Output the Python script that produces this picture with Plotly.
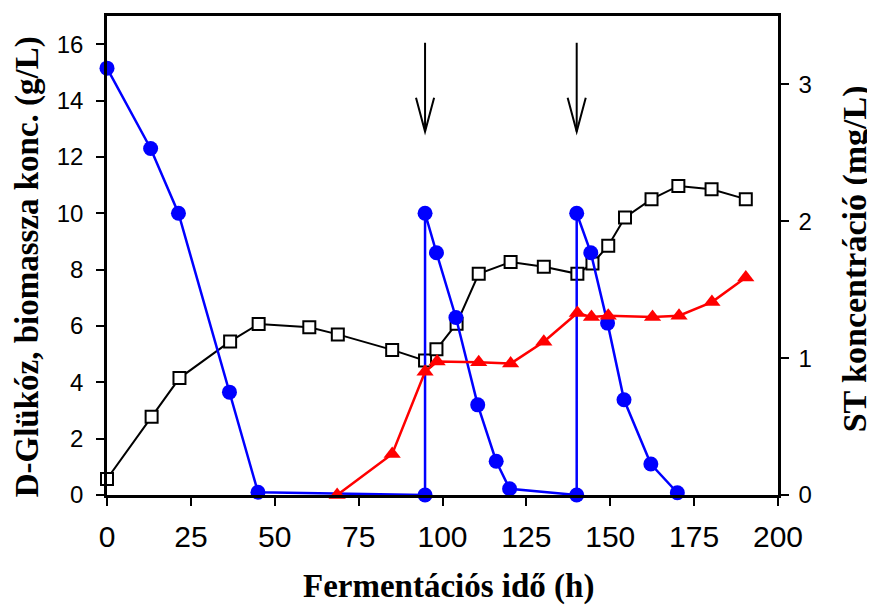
import plotly.graph_objects as go

# ---- data ----
glc_t = [0, 13, 21.3, 36.5, 45, 94.8, 94.8, 98.2, 104, 110.5, 116, 120, 140, 140, 144.2, 149.2, 154.1, 162.1, 170]
glc_v = [15.15, 12.3, 10.0, 3.65, 0.1, 0.0, 10.0, 8.6, 6.3, 3.2, 1.2, 0.22, 0.0, 10.0, 8.6, 6.1, 3.38, 1.1, 0.08]

bio_t = [0, 13.3, 21.6, 36.7, 45.2, 60.3, 68.8, 85, 94.8, 98.2, 104.2, 110.8, 120.3, 130.2, 140.2, 144.7, 149.4, 154.4, 162.3, 170.3, 180.2, 190.4]
bio_v = [0.57, 2.78, 4.15, 5.45, 6.07, 5.95, 5.7, 5.15, 4.77, 5.17, 6.08, 7.85, 8.27, 8.1, 7.85, 8.22, 8.85, 9.85, 10.5, 10.97, 10.85, 10.5]

st_t = [68.6, 85, 94.8, 98.4, 110.8, 120.3, 130.2, 140.2, 144.4, 149.4, 162.6, 170.5, 180.3, 190.4]
st_v = [0.0, 0.3, 0.9, 0.975, 0.97, 0.96, 1.12, 1.33, 1.3, 1.31, 1.3, 1.31, 1.41, 1.59]

feed_t = [94.8, 140]          # feeding times (arrows)
arrow_top, arrow_tip = 16.05, 12.9

x_ticks = [0, 25, 50, 75, 100, 125, 150, 175, 200]
y_ticks = [0, 2, 4, 6, 8, 10, 12, 14, 16]
y2_ticks = [0, 1, 2, 3]

x_title = "Fermentációs idő (h)"
y_title = "D-Glükóz, biomassza konc. (g/L)"
y2_title = "ST koncentráció (mg/L)"

fig = go.Figure()

fig.add_trace(go.Scatter(
    x=bio_t, y=bio_v, mode="lines+markers", cliponaxis=False,
    line=dict(color="black", width=2),
    marker=dict(symbol="square", size=12, color="white", line=dict(color="black", width=2)),
    showlegend=False))

fig.add_trace(go.Scatter(
    x=glc_t, y=glc_v, mode="lines+markers", cliponaxis=False,
    line=dict(color="#0000FF", width=2.5),
    marker=dict(symbol="circle", size=15, color="#0000FF"),
    showlegend=False))

fig.add_trace(go.Scatter(
    x=st_t, y=st_v, mode="lines+markers", cliponaxis=False, yaxis="y2",
    line=dict(color="#FF0000", width=2.5),
    marker=dict(symbol="triangle-up", size=15, color="#FF0000"),
    showlegend=False))

shapes = []
for t in feed_t:
    shapes.append(dict(type="line", xref="x", yref="y", x0=t, x1=t, y0=arrow_top, y1=arrow_tip,
                       line=dict(color="black", width=2)))
    shapes.append(dict(type="path", xref="x", yref="y",
                       path=f"M {t-2.7},14.1 L {t},{arrow_tip} L {t+2.7},14.1",
                       line=dict(color="black", width=2)))

tickfont = dict(family="Liberation Sans, Arial, sans-serif", size=24, color="black")
titlefont = dict(family="Liberation Serif, Times New Roman, serif", size=32, color="black")

# page body has an 8px margin -> figure is shifted by 8px; compensate
fig.update_layout(
    width=867, height=597,
    margin=dict(l=99, r=97, t=5, b=110),
    plot_bgcolor="white", paper_bgcolor="white",
    shapes=shapes,
    xaxis=dict(range=[0, 200], tickvals=x_ticks, ticks="outside", ticklen=8, tickwidth=1.5,
               tickcolor="black", showline=True, linecolor="black", linewidth=2.5, mirror=True,
               showgrid=False, zeroline=False, tickfont=dict(tickfont, size=30),
               ticklabelstandoff=5),
    yaxis=dict(range=[0, 17], tickvals=y_ticks, ticks="outside", ticklen=8, tickwidth=1.5,
               tickcolor="black", showline=True, linecolor="black", linewidth=2.5,
               showgrid=False, zeroline=False, tickfont=tickfont, ticklabelstandoff=8),
    yaxis2=dict(range=[0, 3.5], tickvals=y2_ticks, overlaying="y", side="right", ticks="outside",
                ticklen=8, tickwidth=1.5, tickcolor="black", showline=True, linecolor="black",
                linewidth=2.5, showgrid=False, zeroline=False, tickfont=tickfont,
                ticklabelstandoff=5),
    annotations=[
        dict(text=f"<b>{x_title}</b>", xref="paper", yref="paper", x=0.509, y=-0.19,
             showarrow=False, font=dict(titlefont, size=33), xanchor="center", yanchor="middle"),
        dict(text=f"<b>{y_title}</b>", xref="paper", yref="paper", x=-0.118, y=0.477,
             showarrow=False, font=dict(titlefont, size=33), textangle=-90,
             xanchor="center", yanchor="middle"),
        dict(text=f"<b>{y2_title}</b>", xref="paper", yref="paper", x=1.1148, y=0.492,
             showarrow=False, font=dict(titlefont, size=34), textangle=-90,
             xanchor="center", yanchor="middle"),
    ],
)

fig.write_html("out.html")
